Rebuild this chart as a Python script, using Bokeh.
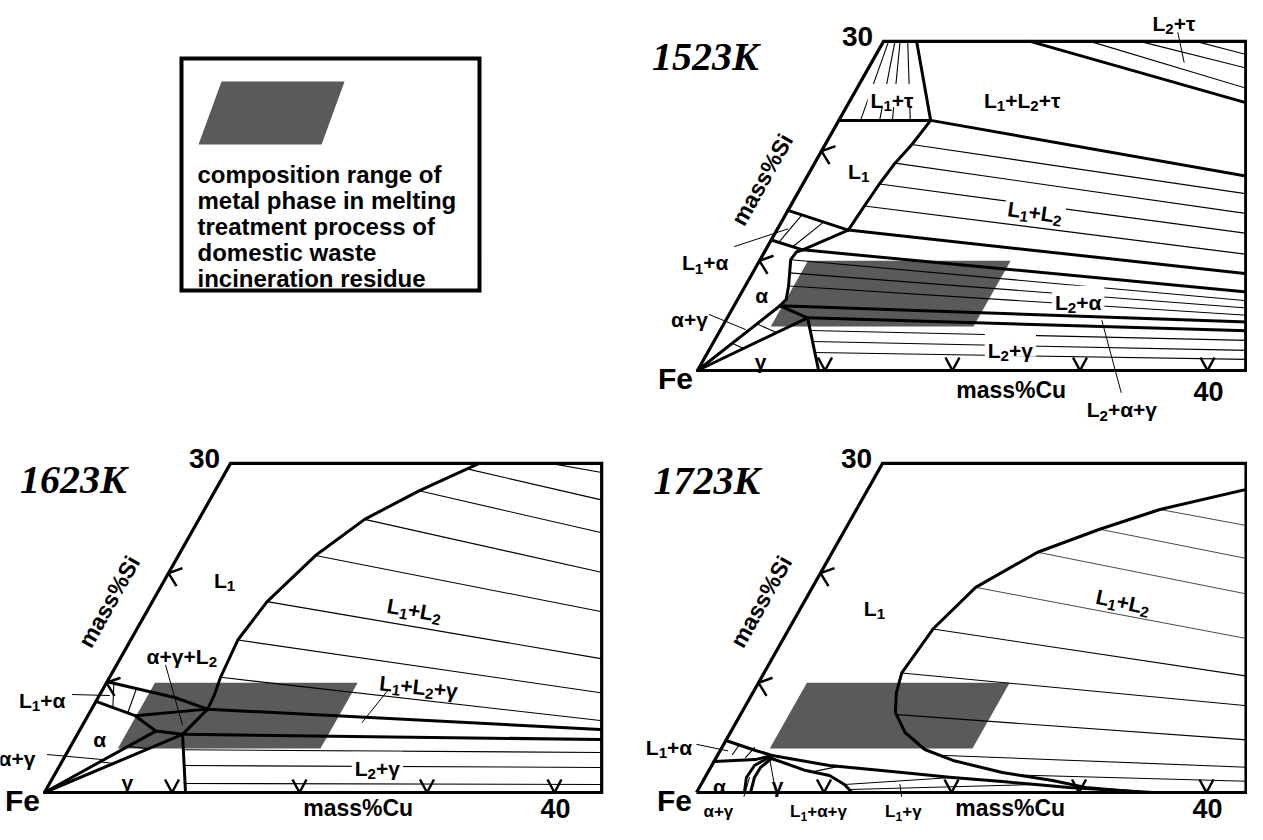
import math
from bokeh.plotting import figure
from bokeh.models import Range1d, Label
from bokeh.embed import file_html
from bokeh.resources import INLINE

# ---------------------------------------------------------------------------
# DATA  (all compositions in mass% Cu, mass% Si)
# ---------------------------------------------------------------------------
PANELS = ["1523K", "1623K", "1723K"]
CU_TICKS = [10, 20, 30, 40]
SI_TICKS = [10, 20]
SI_TOP_LABEL = 30
CU_END_LABEL = 40

# composition range of the metal phase (shaded parallelogram)
SHADE_CU = [3.8, 19.7, 19.7, 3.8]
SHADE_SI = [4.0, 4.0, 10.0, 10.0]

LEGEND_LINES = ["composition range of", "metal phase in melting",
                "treatment process of", "domestic waste", "incineration residue"]

# ---------------- 1523K ----------------
A_L1TAU_LOWER = [(0, 22.8), (7.2, 22.8)]
A_L1TAU_SIDE = [(7.2, 22.8), (2.6, 30)]
A_L2TAU_EDGE = [(11.5, 30), (31.9, 24.2)]
A_L1L2TAU_LOWER = [(7.2, 22.8), (35.1, 17.6)]
A_L1_LIQUIDUS = [(7.2, 22.8), (6.8, 20.6), (6.3, 18.9), (6.0, 17.0), (5.8, 15.0), (5.6, 12.8)]
A_L1L2A_UPPER = [(5.6, 12.8), (39.4, 8.75)]
A_L1A_UPPER = [(0, 14.6), (5.6, 12.8)]
A_L1A_SIDE = [(5.6, 12.8), (2.9, 11.0)]
A_L1A_LOWER = [(0, 11.9), (2.9, 11.0)]
A_L1L2A_LOWER = [(2.9, 11.0), (40.2, 7.1)]
A_ALPHA = [(2.9, 11.0), (2.5, 10.8), (2.4, 10.1), (2.9, 8.9), (3.4, 7.7), (3.8, 6.5), (3.6, 5.9)]
A_AG_UPPER = [(0, 0), (3.6, 5.9)]
A_AG_LOWER = [(0, 0), (6.3, 4.8)]
A_AG_TIE = [(3.6, 5.9), (6.3, 4.8)]
A_L2AG_UPPER = [(3.6, 5.9), (41.6, 4.4)]
A_L2AG_LOWER = [(6.3, 4.8), (42.0, 3.6)]
A_GAMMA = [(6.3, 4.8), (9.5, 0)]

A_TAU_TIES = [[(0.4, 30), (1.7, 22.8)], [(0.9, 30), (3.2, 22.8)],
              [(1.3, 30), (4.2, 22.8)], [(1.9, 30), (5.6, 22.8)]]
A_L2TAU_TIES = [[(16.2, 30), (31.3, 25.5)], [(20.1, 30), (30.3, 27.4)], [(24.5, 30), (29.8, 28.6)]]
A_L1L2_TIES = [[(6.8, 20.6), (35.9, 16.0)], [(6.3, 18.9), (36.8, 14.2)],
               [(6.0, 17.0), (37.7, 12.4)], [(5.8, 15.0), (38.6, 10.5)]]
A_L1A_TIES = [[(0.7, 11.7), (1.3, 14.2)], [(2.0, 11.3), (3.3, 13.5)]]
A_L2A_TIES = [[(2.4, 10.1), (40.6, 6.3)], [(2.9, 8.9), (40.9, 5.65)], [(3.4, 7.7), (41.25, 5.0)]]
A_L2G_TIES = [[(7.07, 3.65), (42.35, 2.73)], [(7.73, 2.64), (42.8, 1.82)], [(8.4, 1.64), (43.2, 1.0)]]
A_AG_TIES = [[(1.5, 2.48), (2.65, 2.0)], [(2.6, 4.25), (4.5, 3.46)]]
A_POINTERS = [[(22.7, 30.8), (24.5, 28.1)], [(29.5, 4.56), (34.2, -2.0)],
              [(-2.6, 11.3), (0.8, 12.9)], [(-1.55, 5.1), (1.94, 3.74)]]
A_LABEL_TEXT = ["L₁+τ", "L₁+L₂+τ", "L₂+τ", "L₁", "L₁+L₂", "L₂+α", "L₂+γ", "L₂+α+γ",
                "L₁+α", "α", "α+γ", "γ"]
A_LABEL_CU = [3.0, 13.2, 21.7, 3.5, 19.2, 26.5, 23.3, 34.7, -4.5, 1.4, -3.2, 4.2]
A_LABEL_SI = [25.3, 25.3, 32.3, 18.8, 15.1, 6.9, 2.55, -2.9, 10.5, 7.5, 5.3, 1.55]
A_LABEL_ROT = [0, 0, 0, 0, -8, 0, 0, 0, 0, 0, 0, 0]

# ---------------- 1623K ----------------
B_L1_LIQUIDUS = [(19.5, 30), (18.8, 29.5), (16.0, 27.5), (13.0, 24.9), (10.75, 21.6), (9.0, 17.4),
                 (8.4, 13.9), (8.7, 10.5), (9.0, 8.9), (9.1, 7.6)]
B_L1A_UPPER = [(0, 10.1), (6.0, 8.66), (9.1, 7.6)]
B_L1A_LOWER = [(0, 8.3), (3.7, 7.0)]
B_JUNCTION = [(9.1, 7.6), (3.7, 7.0), (6.0, 5.6), (8.25, 5.3), (9.1, 7.6)]
B_AG_UPPER = [(0, 0), (6.0, 5.6)]
B_AG_LOWER = [(0, 0), (8.25, 5.3)]
B_GAMMA = [(8.25, 5.3), (11.06, 0)]
B_L1L2G_UPPER = [(9.1, 7.6), (40.8, 5.74)]
B_L1L2G_LOWER = [(8.25, 5.3), (41.25, 4.83)]

B_L1L2_TIES = [[(25.1, 30), (29.4, 29.2)], [(18.8, 29.5), (30.6, 26.7)], [(16.0, 27.5), (32.1, 23.7)],
               [(13.0, 24.9), (33.8, 20.1)], [(10.75, 21.6), (35.6, 16.5)], [(9.0, 17.4), (37.7, 12.2)],
               [(8.4, 13.9), (39.2, 9.1)], [(8.7, 10.5), (40.4, 6.56)]]
B_L2G_TIES = [[(9.0, 3.9), (41.8, 3.65)], [(9.8, 2.46), (42.5, 2.28)], [(10.66, 0.82), (43.3, 0.73)]]
B_L1A_TIES = [[(0.6, 9.95), (1.6, 7.74)], [(2.6, 9.5), (3.0, 7.25)]]
B_AG_TIES = [[(3.0, 2.8), (4.1, 2.65)], [(4.5, 4.2), (6.2, 4.0)]]
B_POINTERS = [[(22.4, 9.3), (21.8, 6.38)], [(3.86, 11.6), (7.8, 6.2)],
              [(-2.15, 8.93), (0.8, 8.84)], [(-1.45, 3.46), (3.1, 3.0)]]
B_LABEL_TEXT = ["L₁", "L₁+L₂", "L₁+L₂+γ", "α+γ+L₂", "L₂+γ", "L₁+α", "α", "α+γ", "γ"]
B_LABEL_CU = [4.4, 20.7, 24.4, 4.4, 24.7, -4.6, 1.65, -4.0, 5.7]
B_LABEL_SI = [20.0, 17.3, 10.3, 13.1, 2.9, 9.1, 5.5, 3.8, 1.64]
B_LABEL_ROT = [0, -10, -6, 0, 0, 0, 0, 0, 0]

# ---------------- 1723K ----------------
C_L1L2_GAP = [(30.25, 27.8), (23.8, 25.8), (19.95, 24.0), (16.1, 21.9), (12.8, 18.7), (11.3, 14.9),
              (10.8, 10.9), (11.25, 9.1), (12.06, 7.29), (13.7, 5.47), (16.0, 3.92), (18.7, 2.92),
              (23.1, 1.82), (27.4, 1.09), (30.3, 0.46), (35.0, 0)]
C_L1_LIQUIDUS = [(0, 4.74), (2.77, 3.83), (4.3, 3.37), (9.23, 2.46), (14.4, 1.91), (19.4, 1.37),
                 (23.5, 1.0), (29.0, 0.46), (35.8, 0)]
C_L1A_LOWER = [(0, 2.83), (3.16, 3.0), (4.3, 3.37)]
C_AG_OUTER = [(3.76, 0), (3.25, 1.37), (3.35, 2.46), (4.3, 3.37)]
C_AG_INNER = [(4.24, 0), (3.88, 1.37), (3.91, 2.28), (4.38, 3.1)]
C_GAMMA = [(4.38, 3.1), (7.6, 2.0), (9.68, 1.55), (11.25, 0.73), (12.2, 0)]

C_L1L2_TIES_UPPER = [[(23.8, 25.8), (32.0, 24.2)], [(19.95, 24.0), (33.4, 21.2)],
                     [(16.1, 21.9), (35.0, 17.96)], [(12.8, 18.7), (37.0, 13.9)]]
C_L1L2_TIES_LOWER = [[(11.3, 14.9), (38.7, 10.5)], [(10.8, 10.9), (39.95, 7.84)],
                     [(12.3, 7.1), (41.5, 4.74)], [(17.3, 3.4), (42.7, 2.28)], [(24.4, 1.6), (43.3, 1.0)]]
C_L1A_TIES = [[(1.14, 3.46), (1.25, 4.38)], [(2.29, 3.19), (2.56, 4.1)]]
C_L1G_TIES = [[(8.17, 1.88), (10.0, 2.38)], [(11.25, 0.73), (19.4, 1.37)], [(11.87, 0.27), (26.25, 0.73)]]
C_POINTERS = [[(-2.1, 4.38), (0.6, 3.8)], [(3.49, 1.37), (3.9, -0.36)],
              [(4.17, 3.19), (6.45, -0.36)], [(15.6, 0.73), (16.26, -0.36)]]
C_LABEL_TEXT = ["L₁", "L₁+L₂", "L₁+α", "α", "γ", "α+γ", "L₁+α+γ", "L₁+γ"]
C_LABEL_CU = [5.45, 24.8, -4.5, 1.18, 5.7, 2.3, 10.15, 16.8]
C_LABEL_SI = [17.5, 18.05, 4.83, 1.28, 1.37, -1.185, -1.185, -1.185]
C_LABEL_ROT = [0, -12, 0, 0, 0, 0, 0, 0]
C_LABEL_SIZE = [21, 21, 21, 21, 21, 17, 17, 17]

# panel title positions (composition space)
TITLE_CU = {"1523K": -13.3, "1623K": -11.6, "1723K": -13.0}
TITLE_SI = {"1523K": 28.6, "1623K": 28.5, "1723K": 28.4}

# ---------------------------------------------------------------------------
# LAYOUT / STYLE
# ---------------------------------------------------------------------------
W, H = 1247, 824
CU_PX, SI_DX, SI_DY = 12.75, 6.2, 10.97           # ternary projection (px per mass%)
ORIGIN = {"1523K": (697, 454), "1623K": (44, 32), "1723K": (696, 32)}   # Fe corner
FRAME_CU_MAX = {"1523K": 43.0, "1623K": 43.7, "1723K": 43.1}
BOTTOM_OFFS = {"1523K": (-21, -19), "1623K": (-16, -15), "1723K": (-16, -15)}
SHADE_COLOR = "#5a5a5a"
FONT = "Liberation Sans"
SUBSCRIPT = {"₁": "1", "₂": "2"}
ADVANCE = {"L": 0.611, "+": 0.584, "1": 0.556, "2": 0.556, "α": 0.62, "γ": 0.56, "τ": 0.5}

p = figure(width=W, height=H, x_range=Range1d(0, W), y_range=Range1d(0, H),
           x_axis_location=None, y_axis_location=None, toolbar_location=None,
           output_backend="svg", min_border=0, outline_line_color=None)
p.grid.visible = False
p.background_fill_color = "white"
p.border_fill_color = "white"


def proj(panel, pts):
    x0, y0 = ORIGIN[panel]
    return ([x0 + CU_PX * c + SI_DX * s for c, s in pts],
            [y0 + SI_DY * s for c, s in pts])


def lines(panel, group, width, color="black"):
    xs, ys = [], []
    for ln in group:
        a, b = proj(panel, ln)
        xs.append(a)
        ys.append(b)
    p.multi_line(xs, ys, line_width=width, line_color=color,
                 line_join="round", line_cap="round")


def label(panel, cu, si, text, size, rot=0, style="bold", font=FONT, xo=0, yo=0):
    (x,), (y,) = proj(panel, [(cu, si)])
    p.add_layout(Label(x=x, y=y, text=text, text_font=font, text_font_size=f"{size}px",
                       text_font_style=style, text_align="center", text_baseline="middle",
                       angle=math.radians(rot), x_offset=xo, y_offset=yo, text_color="black"))


def runs_of(text):
    runs = []
    for ch in text:
        sub = ch in SUBSCRIPT
        c = SUBSCRIPT.get(ch, ch)
        if runs and runs[-1][1] == sub:
            runs[-1][0] += c
        else:
            runs.append([c, sub])
    return runs


def phase_label(panel, cu, si, text, size, rot=0, bg=False):
    """Label with real subscripts: runs of normal / subscript characters."""
    (x,), (y,) = proj(panel, [(cu, si)])
    runs = runs_of(text)
    ssize = size * 0.72
    widths = [sum(ADVANCE.get(c, 0.6) for c in t) * (ssize if sub else size) for t, sub in runs]
    total = sum(widths)
    th = math.radians(rot)
    ct, st = math.cos(th), math.sin(th)
    if bg:
        dy = -0.12 * size
        p.rect(x=[x - dy * st], y=[y + dy * ct], width=[total + 6], height=[size * 1.1],
               angle=[th], fill_color="white", line_color=None)
    u = -total / 2
    for (t, sub), w in zip(runs, widths):
        v = -0.36 * size - (0.27 * size if sub else 0)
        p.add_layout(Label(x=x, y=y, x_offset=u * ct - v * st, y_offset=u * st + v * ct,
                           text=t, text_font=FONT, text_font_size=f"{ssize if sub else size:.1f}px",
                           text_font_style="bold", text_align="left", text_baseline="alphabetic",
                           angle=th, text_color="black"))
        u += w


PANEL_DATA = {
    "1523K": dict(
        thin=A_TAU_TIES + A_L2TAU_TIES + A_L1L2_TIES + A_L1A_TIES + A_L2A_TIES + A_L2G_TIES + A_AG_TIES,
        faint=[],
        pointers=A_POINTERS,
        thick=[A_L1TAU_LOWER, A_L1TAU_SIDE, A_L2TAU_EDGE, A_L1L2TAU_LOWER, A_L1_LIQUIDUS,
               A_L1L2A_UPPER, A_L1A_UPPER, A_L1A_SIDE, A_L1A_LOWER, A_L1L2A_LOWER, A_ALPHA,
               A_AG_UPPER, A_AG_LOWER, A_AG_TIE, A_L2AG_UPPER, A_L2AG_LOWER, A_GAMMA],
        labels=(A_LABEL_TEXT, A_LABEL_CU, A_LABEL_SI, A_LABEL_ROT, [21] * len(A_LABEL_TEXT))),
    "1623K": dict(
        thin=B_L1L2_TIES + B_L2G_TIES + B_L1A_TIES + B_AG_TIES,
        faint=[],
        pointers=B_POINTERS,
        thick=[B_L1_LIQUIDUS, B_L1A_UPPER, B_L1A_LOWER, B_JUNCTION, B_AG_UPPER, B_AG_LOWER,
               B_GAMMA, B_L1L2G_UPPER, B_L1L2G_LOWER],
        labels=(B_LABEL_TEXT, B_LABEL_CU, B_LABEL_SI, B_LABEL_ROT, [21] * len(B_LABEL_TEXT))),
    "1723K": dict(
        thin=C_L1L2_TIES_LOWER + C_L1A_TIES + C_L1G_TIES,
        faint=C_L1L2_TIES_UPPER,
        pointers=C_POINTERS,
        thick=[C_L1L2_GAP, C_L1_LIQUIDUS, C_L1A_LOWER, C_AG_OUTER, C_AG_INNER, C_GAMMA],
        labels=(C_LABEL_TEXT, C_LABEL_CU, C_LABEL_SI, C_LABEL_ROT, C_LABEL_SIZE)),
}

ON_LINES = {"1523K": {"L₁+L₂", "L₂+α", "L₂+γ", "L₁+τ"},
            "1623K": {"L₂+γ", "L₁+L₂+γ"},
            "1723K": set()}
SLANT_DEG = math.degrees(math.atan2(SI_DY, SI_DX))

for panel in PANELS:
    d = PANEL_DATA[panel]
    sx, sy = proj(panel, list(zip(SHADE_CU, SHADE_SI)))
    p.patch(sx, sy, fill_color=SHADE_COLOR, line_color=None)
    lines(panel, d["thin"], 1.1)
    if d["faint"]:
        lines(panel, d["faint"], 0.9, color="#333333")
    lines(panel, d["pointers"], 1.0)
    lines(panel, d["thick"], 3.0)
    # frame
    cmax = FRAME_CU_MAX[panel]
    top_right = cmax - SI_DX / CU_PX * SI_TOP_LABEL
    fx, fy = proj(panel, [(0, 0), (cmax, 0), (top_right, SI_TOP_LABEL), (0, SI_TOP_LABEL), (0, 0)])
    p.line(fx, fy, line_width=3.2, line_color="black", line_join="miter")
    # ticks on Cu axis ("v") and Si axis ("<")
    txs, tys = [], []
    for c in CU_TICKS:
        (x,), (y,) = proj(panel, [(c, 0)])
        txs.append([x - 7, x, x + 7])
        tys.append([y + 13, y, y + 13])
    for s in SI_TICKS:
        (x,), (y,) = proj(panel, [(0, s)])
        txs.append([x + 14, x, x + 8])
        tys.append([y + 5, y, y - 13])
    p.multi_line(txs, tys, line_width=2.5, line_color="black")
    # phase labels
    texts, cus, sis, rots, sizes = d["labels"]
    for t, c, s, r, z in zip(texts, cus, sis, rots, sizes):
        phase_label(panel, c, s, t, z, rot=r, bg=t in ON_LINES[panel])
    # axis annotations
    o40, ocu = BOTTOM_OFFS[panel]
    label(panel, 0, 0, "Fe", 30, xo=-22, yo=-8)
    label(panel, 0, SI_TOP_LABEL, str(SI_TOP_LABEL), 28, xo=-26, yo=5)
    label(panel, CU_END_LABEL, 0, str(CU_END_LABEL), 27, xo=1, yo=o40)
    label(panel, 24.6, 0, "mass%Cu", 23, yo=ocu)
    label(panel, -3.4, 17.4, "mass%Si", 23, rot=SLANT_DEG)
    label(panel, TITLE_CU[panel], TITLE_SI[panel], panel, 40, style="bold italic",
          font="Liberation Serif")

# ---------------- legend box ----------------
p.quad(left=181, right=479, bottom=534, top=766, fill_color=None,
       line_color="black", line_width=4, line_join="miter")
LX0, LY0, LKA, LKB, LKC = 153.3, 638.0, 7.74, 3.83, 10.5
p.patch([LX0 + LKA * c + LKB * s for c, s in zip(SHADE_CU, SHADE_SI)],
        [LY0 + LKC * s for s in SHADE_SI], fill_color=SHADE_COLOR, line_color=None)
for i, t in enumerate(LEGEND_LINES):
    p.add_layout(Label(x=197, y=650.3 - 26.1 * i, text=t, text_font=FONT, text_font_size="24px",
                       text_font_style="bold", text_align="left", text_baseline="alphabetic",
                       text_color="black"))

open("out.html", "w").write(file_html(p, INLINE))
